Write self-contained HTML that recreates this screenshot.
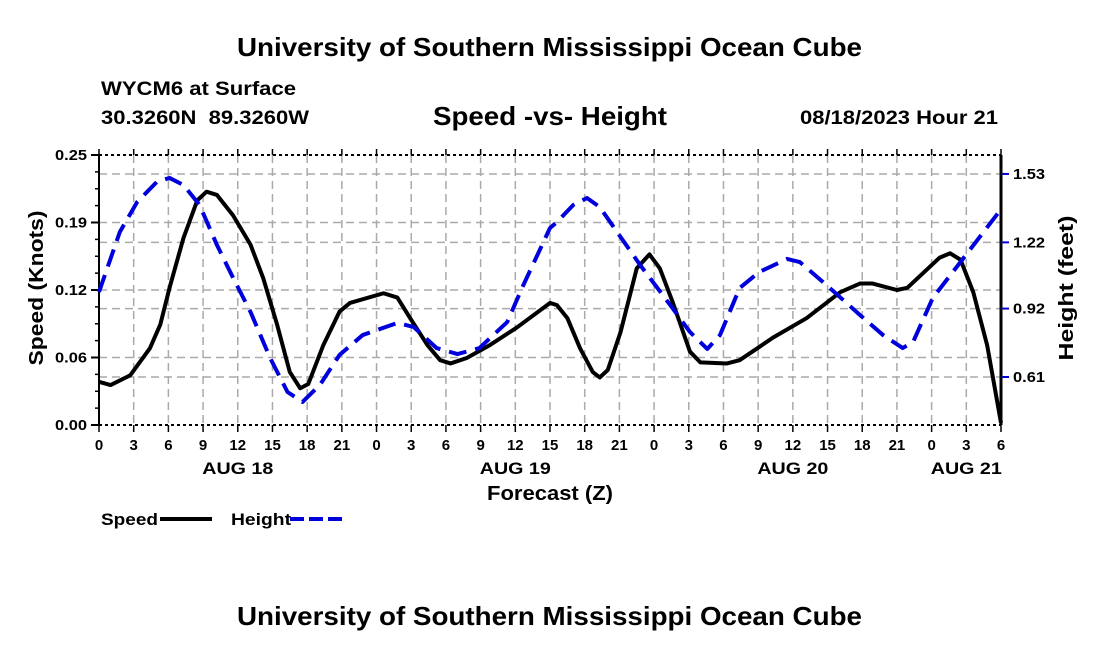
<!DOCTYPE html>
<html><head><meta charset="utf-8"><style>
body{margin:0;background:#fff;}
svg text{font-family:"Liberation Sans",sans-serif;font-weight:bold;fill:#000;}
</style></head><body>
<svg id="chart" width="1100" height="650" xmlns="http://www.w3.org/2000/svg">
<rect width="1100" height="650" fill="#fff"/>
<text x="237" y="56" font-size="26" textLength="625" lengthAdjust="spacingAndGlyphs">University of Southern Mississippi Ocean Cube</text>
<text x="101" y="95" font-size="19" textLength="195" lengthAdjust="spacingAndGlyphs">WYCM6 at Surface</text>
<text x="101" y="124" font-size="19" textLength="208" lengthAdjust="spacingAndGlyphs">30.3260N&#160;&#160;89.3260W</text>
<text x="433" y="125" font-size="26" textLength="234" lengthAdjust="spacingAndGlyphs">Speed -vs- Height</text>
<text x="800" y="124" font-size="19" textLength="198" lengthAdjust="spacingAndGlyphs">08/18/2023 Hour 21</text>
<g id="grid"></g>
<g id="axes"></g>
<g id="series"></g>
<text transform="translate(43,288) rotate(-90)" font-size="20" text-anchor="middle" textLength="155" lengthAdjust="spacingAndGlyphs">Speed (Knots)</text>
<text transform="translate(1073,288) rotate(-90)" font-size="20" text-anchor="middle" textLength="145" lengthAdjust="spacingAndGlyphs">Height (feet)</text>
<text x="487" y="500" font-size="20" textLength="126" lengthAdjust="spacingAndGlyphs">Forecast (Z)</text>
<g>
<text x="101" y="525" font-size="17" textLength="57" lengthAdjust="spacingAndGlyphs">Speed</text>
<line x1="160" y1="519" x2="212" y2="519" stroke="#000" stroke-width="4"/>
<text x="231" y="525" font-size="17" textLength="60" lengthAdjust="spacingAndGlyphs">Height</text>
<line x1="290" y1="519" x2="342" y2="519" stroke="#0000dd" stroke-width="4" stroke-dasharray="14,5"/>
</g>
<text x="237" y="625" font-size="26" textLength="625" lengthAdjust="spacingAndGlyphs">University of Southern Mississippi Ocean Cube</text>
</svg>
<script>
const speedHours=[0,1,2.7,4.4,5.3,6.1,7.3,8.5,9.3,10.2,11.6,13.1,14.2,15.4,16.5,17.4,18.1,19.4,20.8,21.7,24.6,25.8,26.9,28.4,29.5,30.4,31.8,33.8,36.1,39,39.6,40.5,41.6,42.7,43.3,44,45.1,46.5,47.6,48.5,49.6,51.1,52,54.3,55.4,58.3,61.2,64.1,65.8,66.9,69,69.9,71.3,72.7,73.6,74.5,75.6,76.8,78];
const speedValues=[0.040,0.037,0.046,0.071,0.093,0.127,0.173,0.208,0.216,0.213,0.194,0.167,0.136,0.093,0.049,0.034,0.038,0.074,0.105,0.113,0.122,0.118,0.099,0.074,0.060,0.057,0.062,0.074,0.090,0.113,0.111,0.099,0.071,0.049,0.044,0.051,0.086,0.145,0.158,0.145,0.114,0.068,0.058,0.057,0.060,0.081,0.099,0.123,0.131,0.131,0.125,0.127,0.141,0.155,0.159,0.153,0.123,0.074,0.002];
const heightHours=[0,1.8,3.3,5,6.1,7.3,8.7,10.2,11.6,13.1,14.8,16.3,17.6,19.1,20.8,22.8,25.8,27.2,29.2,31,32.9,35.3,36.7,39,39.6,41,42.2,43.3,44.8,46.8,49.4,51.1,52.6,53.7,55.4,57.1,59.5,60.6,62.9,65.8,67.8,69.5,70.4,72.1,74.5,78];
const heightValues=[0.995,1.267,1.403,1.494,1.512,1.480,1.389,1.208,1.059,0.905,0.696,0.542,0.497,0.574,0.710,0.800,0.855,0.837,0.741,0.714,0.741,0.859,1.027,1.285,1.312,1.389,1.421,1.380,1.267,1.117,0.936,0.814,0.737,0.800,1.013,1.086,1.145,1.131,1.027,0.891,0.800,0.741,0.769,0.968,1.131,1.37];
const xTickLabels=['0','3','6','9','12','15','18','21','0','3','6','9','12','15','18','21','0','3','6','9','12','15','18','21','0','3','6'];
const dayLabels=['AUG 18','AUG 19','AUG 20','AUG 21'];
const dayHours=[12,36,60,75];
const leftTicks=[0,0.0625,0.125,0.1875,0.25];
const leftTickLabels=['0.00','0.06','0.12','0.19','0.25'];
const rightTicks=[0.61,0.92,1.22,1.53];
const rightTickLabels=['0.61','0.92','1.22','1.53'];

const X0=99,X1=1001,Y0=155,Y1=425,HMAX=78;
const xs=h=>X0+(X1-X0)*h/HMAX;
const ySpeed=v=>Y1-(Y1-Y0)*v/0.25;
const yHeight=v=>377-(v-0.61)*220.7;
const NS='http://www.w3.org/2000/svg';
function mk(parent,tag,attrs){const e=document.createElementNS(NS,tag);for(const k in attrs)e.setAttribute(k,attrs[k]);parent.appendChild(e);return e;}
const grid=document.getElementById('grid'),axes=document.getElementById('axes'),series=document.getElementById('series');
for(let i=1;i<xTickLabels.length-1;i++){const x=xs(i*3);
 const l=mk(grid,'line',{x1:x,y1:Y0,x2:x,y2:Y1,stroke:'#aaa','stroke-width':1.5,'stroke-dasharray':'8,5'});
 
 }
leftTicks.slice(1,-1).forEach(v=>{const y=ySpeed(v);
 const l=mk(grid,'line',{x1:X0,y1:y,x2:X1,y2:y,stroke:'#aaa','stroke-width':1.5,'stroke-dasharray':'8,5'});
 
 });
rightTicks.forEach(v=>{const y=yHeight(v);
 const l=mk(grid,'line',{x1:X0,y1:y,x2:X1,y2:y,stroke:'#aaa','stroke-width':1.5,'stroke-dasharray':'8,5'});
 
 });
mk(axes,'line',{x1:X0,y1:Y0,x2:X1,y2:Y0,stroke:'#000','stroke-width':2,'stroke-dasharray':'3,3'});
mk(axes,'line',{x1:X0,y1:Y1,x2:X1,y2:Y1,stroke:'#000','stroke-width':2,'stroke-dasharray':'3,3'});
mk(axes,'line',{x1:X0,y1:Y0,x2:X0,y2:Y1,stroke:'#000','stroke-width':2});
mk(axes,'line',{x1:X1,y1:Y0,x2:X1,y2:Y1,stroke:'#000','stroke-width':3});
xTickLabels.forEach((t,i)=>{const x=xs(i*3);
 mk(axes,'line',{x1:x,y1:Y1,x2:x,y2:Y1+7,stroke:'#000','stroke-width':1.5});
 mk(axes,'line',{x1:x,y1:Y0-6,x2:x,y2:Y0,stroke:'#000','stroke-width':1.5});
 const tx=mk(axes,'text',{x:x,y:450,'font-size':15,'text-anchor':'middle'});tx.textContent=t;
 
 });
dayLabels.forEach((d,i)=>{const tx=mk(axes,'text',{x:xs(dayHours[i]),y:474,'font-size':17,'text-anchor':'middle',textLength:71,lengthAdjust:'spacingAndGlyphs'});tx.textContent=d;
 
 });
for(let v=0;v<=0.25001;v+=0.0625/4){const y=ySpeed(v);mk(axes,'line',{x1:X0-4,y1:y,x2:X0,y2:y,stroke:'#000','stroke-width':1.5});}
leftTicks.forEach((v,i)=>{const y=ySpeed(v);
 mk(axes,'line',{x1:X0-8,y1:y,x2:X0,y2:y,stroke:'#000','stroke-width':2});
 const tx=mk(axes,'text',{x:87,y:y+5,'font-size':15,'text-anchor':'end',textLength:32,lengthAdjust:'spacingAndGlyphs'});tx.textContent=leftTickLabels[i];
 
 });
rightTicks.forEach((v,i)=>{const y=yHeight(v);
 mk(axes,'line',{x1:X1,y1:y,x2:X1+8,y2:y,stroke:'#0000cc','stroke-width':2});
 const tx=mk(axes,'text',{x:1013,y:y+5,'font-size':15,textLength:32,lengthAdjust:'spacingAndGlyphs'});tx.textContent=rightTickLabels[i];
 
 });
const sp=mk(series,'polyline',{points:speedHours.map((h,i)=>xs(h)+','+ySpeed(speedValues[i])).join(' '),fill:'none',stroke:'#000','stroke-width':4,'stroke-linejoin':'round'});


const hp=mk(series,'polyline',{points:heightHours.map((h,i)=>xs(h)+','+yHeight(heightValues[i])).join(' '),fill:'none',stroke:'#0000dd','stroke-width':4,'stroke-dasharray':'18,9','stroke-linejoin':'round'});


</script>
</body></html>
